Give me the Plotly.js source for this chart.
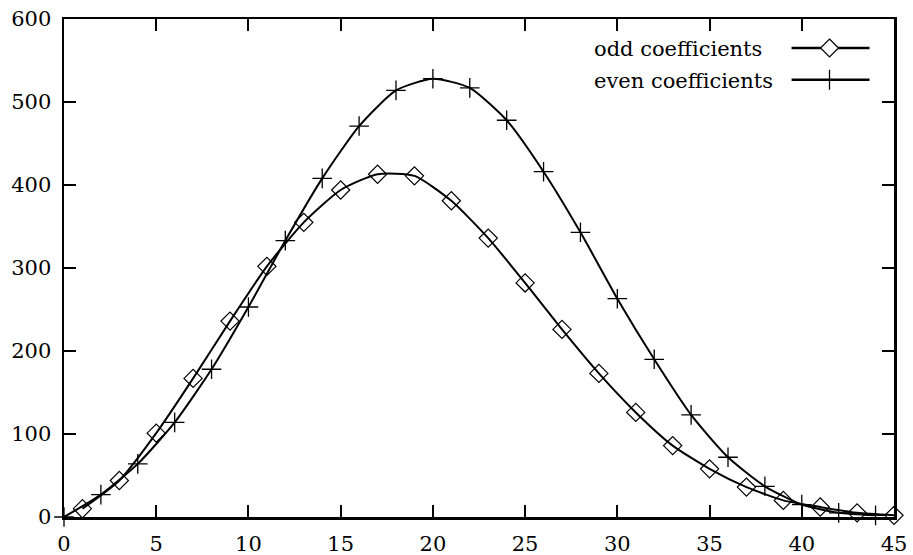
<!DOCTYPE html>
<html>
<head>
<meta charset="utf-8">
<script src="https://cdn.plot.ly/plotly-3.0.1.min.js"></script>
<style>html,body{margin:0;padding:0;background:#fff;}#chart{width:913px;height:555px;}</style>
</head>
<body>
<div id="chart"></div>
<script>
// Data
const oddX = [1,3,5,7,9,11,13,15,17,19,21,23,25,27,29,31,33,35,37,39,41,43,45];
const oddY = [10,44,101,167,236,302,355,394,413,411,381,336,282,226,173,126,86,58,36,20,12,5,2];
const evenX = [0,2,4,6,8,10,12,14,16,18,20,22,24,26,28,30,32,34,36,38,40,42,44];
const evenY = [0,27,64,114,178,253,333,408,471,514,528,517,478,416,343,263,190,123,72,37,15,5,2];
const seriesNames = ["odd coefficients", "even coefficients"];
const xTicks = [0,5,10,15,20,25,30,35,40,45];
const yTicks = [0,100,200,300,400,500,600];

const FONT = "DejaVu Serif, Liberation Serif, serif";
const FSIZE = 21;

const traces = [
  {x: oddX, y: oddY, name: seriesNames[0], type: 'scatter', mode: 'lines+markers',
   line: {color: '#000', width: 2, shape: 'spline', smoothing: 0.6},
   marker: {symbol: 'diamond-open', size: 14, color: '#000', line: {width: 1.2, color: '#000'}},
   showlegend: false, cliponaxis: false},
  {x: evenX, y: evenY, name: seriesNames[1], type: 'scatter', mode: 'lines+markers',
   line: {color: '#000', width: 2, shape: 'spline', smoothing: 0.6},
   marker: {symbol: 'cross-thin-open', size: 14, color: '#000', line: {width: 1.3, color: '#000'}},
   showlegend: false, cliponaxis: false}
];

// custom gnuplot-style key (text then sample)
const keyTextX = 0.6358;
const keyRows = [0.9418, 0.878];
const keyLineX0 = 0.8766, keyLineX1 = 0.9705, keyMarkX = 0.9223;

const annotations = seriesNames.map((n, i) => ({
  xref: 'paper', yref: 'paper', x: keyTextX, y: keyRows[i] - 0.003,
  xanchor: 'left', yanchor: 'middle', text: n, showarrow: false,
  font: {family: FONT, size: FSIZE, color: '#000'}
}));

const shapes = [];
keyRows.forEach((yy) => {
  shapes.push({type: 'line', xref: 'paper', yref: 'paper', x0: keyLineX0, x1: keyLineX1, y0: yy, y1: yy,
    line: {color: '#000', width: 2.5}});
});
shapes.push({type: 'path', xref: 'paper', yref: 'paper', xsizemode: 'pixel', ysizemode: 'pixel',
  xanchor: keyMarkX, yanchor: keyRows[0], path: 'M 0,9 L 9,0 L 0,-9 L -9,0 Z',
  fillcolor: '#fff', line: {color: '#000', width: 1.2}});
shapes.push({type: 'path', xref: 'paper', yref: 'paper', xsizemode: 'pixel', ysizemode: 'pixel',
  xanchor: keyMarkX, yanchor: keyRows[1], path: 'M 0,-10 L 0,10',
  line: {color: '#000', width: 1.3}});

const axisCommon = {
  showline: true, linecolor: '#000', linewidth: 2.5, mirror: 'allticks',
  ticks: 'inside', ticklen: 12, tickwidth: 2, tickcolor: '#000',
  showgrid: false, zeroline: false,
  tickfont: {family: FONT, size: FSIZE, color: '#000'}
};

const layout = {
  width: 913, height: 555,
  margin: {l: 64, r: 18.5, t: 19.3, b: 37.7},
  paper_bgcolor: '#fff', plot_bgcolor: '#fff',
  showlegend: false,
  xaxis: Object.assign({}, axisCommon, {range: [0, 45], tickmode: 'array', tickvals: xTicks, ticktext: xTicks.map(String), ticklabelstandoff: 6}),
  yaxis: Object.assign({}, axisCommon, {range: [0, 600], tickmode: 'array', tickvals: yTicks, ticktext: yTicks.map(String), ticklabelstandoff: 6}),
  annotations: annotations,
  shapes: shapes
};

Plotly.newPlot('chart', traces, layout, {displayModeBar: false, staticPlot: true});
</script>
</body>
</html>
